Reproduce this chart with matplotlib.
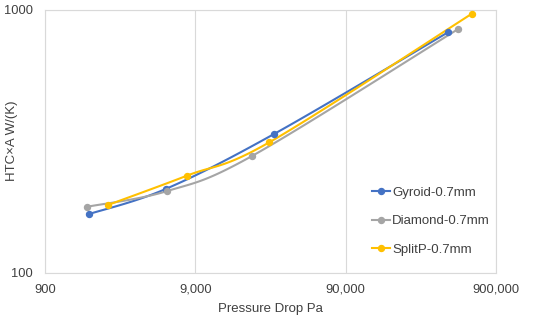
import numpy as np
import matplotlib
matplotlib.use("Agg")
import matplotlib.pyplot as plt
from matplotlib.ticker import FixedLocator, FuncFormatter, NullLocator

plt.rcParams['font.family'] = ['Liberation Sans', 'DejaVu Sans']

series_names = ["Gyroid-0.7mm", "Diamond-0.7mm", "SplitP-0.7mm"]
gyroid_x = [1766, 5717, 30180, 433700]
gyroid_y = [167, 208, 337, 821]
diamond_x = [1713, 5806, 21540, 503600]
diamond_y = [178, 204, 278, 843]
splitp_x = [2374, 7962, 27960, 621000]
splitp_y = [181, 234, 313, 964]
colors = ["#4472C4", "#A5A5A5", "#FFC000"]
x_ticks = [900, 9000, 90000, 900000]
y_ticks = [100, 1000]


def smooth(xs, ys, n=40):
    # Catmull-Rom style Bezier smoothing in log space (like Excel smoothed lines)
    px = np.log10(np.asarray(xs, float))
    py = np.log10(np.asarray(ys, float))
    P = np.column_stack([px, py])
    out = [P[0]]
    m = len(P)
    for i in range(m - 1):
        p0 = P[i - 1] if i > 0 else P[i]
        p1 = P[i]
        p2 = P[i + 1]
        p3 = P[i + 2] if i + 2 < m else P[i + 1]
        c1 = p1 + (p2 - p0) / 6.0
        c2 = p2 - (p3 - p1) / 6.0
        t = np.linspace(0, 1, n)[1:, None]
        b = ((1 - t) ** 3) * p1 + 3 * ((1 - t) ** 2) * t * c1 + 3 * (1 - t) * t ** 2 * c2 + t ** 3 * p2
        out.extend(b)
    out = np.array(out)
    return 10 ** out[:, 0], 10 ** out[:, 1]


fig = plt.figure(figsize=(5.5, 3.2), dpi=100)
ax = fig.add_axes([0.0818, 0.148, 0.82, 0.822])
ax.set_xscale('log')
ax.set_yscale('log')
ax.set_xlim(900, 900000)
ax.set_ylim(100, 1000)

data = [(gyroid_x, gyroid_y), (diamond_x, diamond_y), (splitp_x, splitp_y)]
for (xs, ys), name, c in zip(data, series_names, colors):
    sx, sy = smooth(xs, ys)
    ax.plot(sx, sy, color=c, lw=1.5, zorder=3)
    ax.plot(xs, ys, 'o', color=c, ms=4.3, zorder=4)
    ax.plot([], [], '-o', color=c, lw=1.5, ms=4.3, label=name)

ax.xaxis.set_major_locator(FixedLocator(x_ticks))
ax.xaxis.set_minor_locator(NullLocator())
ax.yaxis.set_major_locator(FixedLocator(y_ticks))
ax.yaxis.set_minor_locator(NullLocator())
ax.xaxis.set_major_formatter(FuncFormatter(lambda v, p: f"{int(round(v)):,}"))
ax.yaxis.set_major_formatter(FuncFormatter(lambda v, p: f"{int(round(v))}"))
ax.tick_params(length=0, labelsize=9.3, colors='#404040')
ax.tick_params(axis='y', pad=8.6)
ax.tick_params(axis='x', pad=8)

ax.grid(True, color='#D9D9D9', lw=0.8)
for s in ax.spines.values():
    s.set_color('#D9D9D9')
    s.set_linewidth(0.8)

ax.set_xlabel("Pressure Drop Pa", fontsize=9.5, color='#404040', labelpad=5)
ax.set_ylabel("HTC×A W/(K)", fontsize=9.5, color='#404040')
ax.yaxis.set_label_coords(-0.0588, 0.5)

leg = fig.legend(loc='upper left', bbox_to_anchor=(0.676, 0.416), frameon=False,
                 fontsize=9.5, handlelength=1.4, handletextpad=0.15, labelspacing=1.22,
                 borderaxespad=0, borderpad=0)
for t in leg.get_texts():
    t.set_color('#404040')

fig.savefig("out.png", dpi=100, facecolor='white')
